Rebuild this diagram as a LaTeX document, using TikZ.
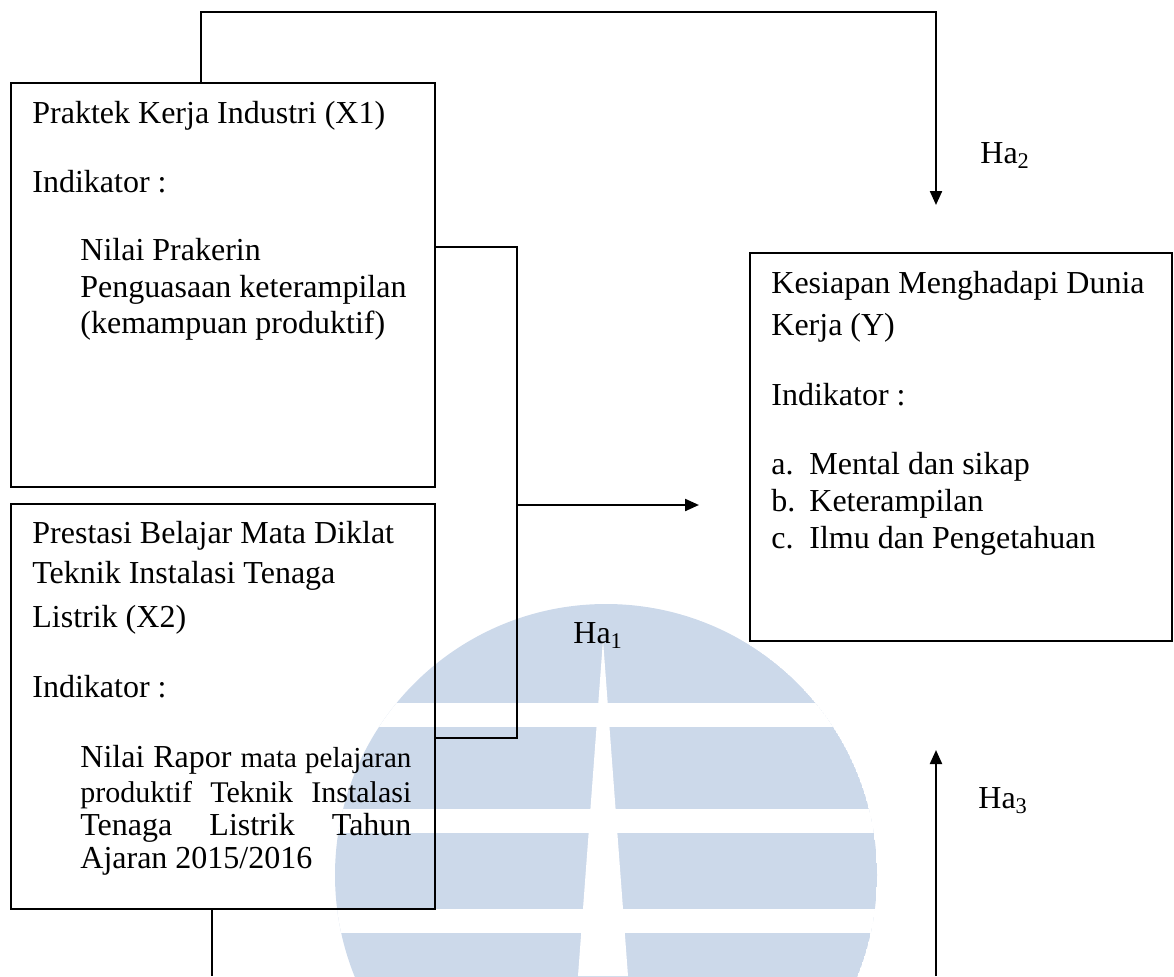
\documentclass[tikz,border=0pt]{standalone}
\usepackage{fontspec}
\setmainfont{Liberation Serif}
\usetikzlibrary{arrows.meta}
\definecolor{logoblue}{RGB}{204,217,234}
\tikzset{
  box/.style={draw, line width=1.1pt, anchor=north west, inner sep=0pt},
  txt/.style={anchor=base west, inner sep=0pt, font=\fontsize{16}{18}\selectfont},
  conn/.style={line width=1.1pt},
  arr/.style={conn, -{Triangle[length=7pt,width=6pt]}},
}

\begin{document}
\begin{tikzpicture}[x=0.5pt,y=-0.5pt]
  \useasboundingbox (0,0) rectangle (1174,976);
  % watermark behind everything
  \begin{scope}
    \clip (606,875) circle (135.5pt);
    \fill[logoblue] (606,875) circle (135.5pt);
    \foreach \yy in {703,809,909}
      \fill[white] (300,\yy) rectangle (900,\yy+24);
    \fill[white] (603,640) -- (578,976) -- (628,976) -- cycle;
  \end{scope}

  % boxes
  \node[box, minimum width=212pt, minimum height=202pt] (x1) at (10,82) {};
  \node[box, minimum width=212pt, minimum height=202.5pt] (x2) at (10,503) {};
  \node[box, minimum width=211pt, minimum height=194pt] (y) at (749,252) {};

  % X1
  \node[txt] (x1title) at (32,123) {Praktek Kerja Industri (X1)};
  \node[txt] (x1ind) at (32,192) {Indikator :};
  \foreach \yy/\txt [count=\i] in {260/{Nilai Prakerin},297/{Penguasaan keterampilan},333/{(kemampuan produktif)}}
    \node[txt] (x1i\i) at (80,\yy) {\txt};

  % X2
  \foreach \yy/\txt [count=\i] in {543/{Prestasi Belajar Mata Diklat},583/{Teknik Instalasi Tenaga},627/{Listrik (X2)}}
    \node[txt] (x2t\i) at (32,\yy) {\txt};
  \node[txt] (x2ind) at (32,697) {Indikator :};
  \node[txt] (x2i1) at (80,767) {\makebox[165.5pt][s]{Nilai Rapor {\fontsize{14.5}{17}\selectfont mata pelajaran}}};
  \node[txt] (x2i2) at (80,802) {\fontsize{15}{17}\selectfont\makebox[165.5pt][s]{produktif Teknik Instalasi}};
  \node[txt] (x2i3) at (80,835) {\makebox[165.5pt][s]{Tenaga Listrik Tahun}};
  \node[txt] (x2i4) at (80,868) {Ajaran 2015/2016};

  % Y
  \node[txt] (yt1) at (771,293) {Kesiapan Menghadapi Dunia};
  \node[txt] (yt2) at (771,335) {Kerja (Y)};
  \node[txt] (yind) at (771,405) {Indikator :};
  \foreach \yy/\lab/\txt [count=\i] in {474/a./{Mental dan sikap},511/b./{Keterampilan},548/c./{Ilmu dan Pengetahuan}} {
    \node[txt] (yl\i) at (771,\yy) {\lab};
    \node[txt] (yi\i) at (809,\yy) {\txt};
  }

  % hypothesis labels
  \node[txt] (ha2) at (980,163) {Ha\textsubscript{2}};
  \node[txt] (ha1) at (573,643) {Ha\textsubscript{1}};
  \node[txt] (ha3) at (978,808) {Ha\textsubscript{3}};

  % connectors
  \coordinate (topl) at (201,12);
  \coordinate (ha2tip) at (936,205);
  \draw[arr] (x1.north -| topl) -- (topl) -- (topl -| ha2tip) -- (ha2tip);

  \coordinate (j1) at (517,247);
  \coordinate (j2) at (517,738);
  \draw[conn] (x1.east |- j1) -- (j1) -- (j2) -- (x2.east |- j2);
  \coordinate (ha1tip) at (699,505);
  \draw[arr] (j1 |- ha1tip) -- (ha1tip);

  \coordinate (bl) at (212,976);
  \draw[conn] (x2.south -| bl) -- (bl);
  \coordinate (br) at (936,976);
  \coordinate (ha3tip) at (936,750);
  \draw[arr] (br) -- (ha3tip);
\end{tikzpicture}
\end{document}
